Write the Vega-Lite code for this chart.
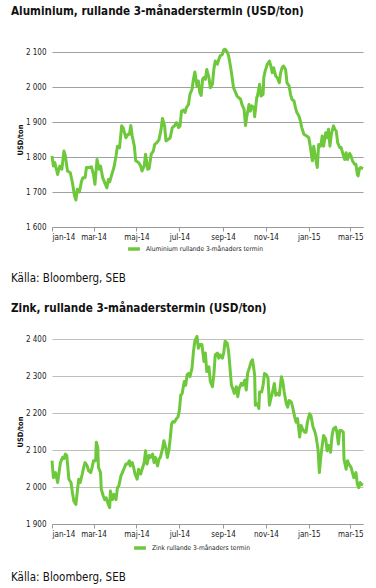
{
  "$schema": "https://vega.github.io/schema/vega-lite/v6.json",
  "padding": {"left": 11, "top": 6, "right": 4, "bottom": 2},
  "spacing": 18,
  "config": {
    "view": {"stroke": null},
    "font": "DejaVu Sans Condensed, sans-serif",
    "title": {"font": "DejaVu Sans Condensed, sans-serif", "fontSize": 11.6, "fontWeight": "bold", "color": "#111111"},
    "axis": {"labelFont": "DejaVu Sans Condensed, sans-serif", "labelFontSize": 8, "labelColor": "#222222", "titleFont": "DejaVu Sans Condensed, sans-serif", "titleFontSize": 7.5, "titleFontWeight": "bold", "titleColor": "#111111"},
    "legend": {"labelFont": "DejaVu Sans Condensed, sans-serif", "labelFontSize": 6.6, "labelColor": "#222222"}
  },
  "resolve": {"scale": {"color": "independent", "x": "independent", "y": "independent"}, "legend": {"color": "independent"}},
  "vconcat": [
    {
      "title": {"text": "Källa: Bloomberg, SEB", "orient": "bottom", "anchor": "start", "frame": "bounds", "fontSize": 11.5, "fontWeight": "normal", "offset": 17},
      "resolve": {"legend": {"color": "independent"}},
      "vconcat": [
        {
          "width": 311,
          "height": 175,
          "title": {"text": "Aluminium, rullande 3-månaderstermin (USD/ton)", "anchor": "start", "frame": "group", "dx": -41, "offset": 30},
          "data": {"values": [
            {"d":"2014-01-01","v":1803},{"d":"2014-01-03","v":1774},{"d":"2014-01-05","v":1784},{"d":"2014-01-09","v":1750},{"d":"2014-01-12","v":1774},{"d":"2014-01-15","v":1765},{"d":"2014-01-18","v":1817},{"d":"2014-01-20","v":1803},{"d":"2014-01-23","v":1760},{"d":"2014-01-27","v":1755},{"d":"2014-01-30","v":1727},
            {"d":"2014-02-02","v":1689},{"d":"2014-02-04","v":1677},{"d":"2014-02-06","v":1708},{"d":"2014-02-09","v":1700},{"d":"2014-02-12","v":1731},{"d":"2014-02-14","v":1741},{"d":"2014-02-17","v":1741},{"d":"2014-02-19","v":1770},{"d":"2014-02-23","v":1770},{"d":"2014-02-26","v":1772},
            {"d":"2014-03-01","v":1750},{"d":"2014-03-03","v":1722},{"d":"2014-03-06","v":1793},{"d":"2014-03-09","v":1765},{"d":"2014-03-11","v":1774},{"d":"2014-03-14","v":1741},{"d":"2014-03-16","v":1731},{"d":"2014-03-20","v":1712},{"d":"2014-03-22","v":1736},{"d":"2014-03-24","v":1729},{"d":"2014-03-27","v":1750},{"d":"2014-03-30","v":1770},
            {"d":"2014-04-02","v":1803},{"d":"2014-04-04","v":1831},{"d":"2014-04-07","v":1826},{"d":"2014-04-10","v":1889},{"d":"2014-04-12","v":1884},{"d":"2014-04-16","v":1855},{"d":"2014-04-19","v":1865},{"d":"2014-04-21","v":1865},{"d":"2014-04-23","v":1890},{"d":"2014-04-25","v":1860},{"d":"2014-04-28","v":1831},{"d":"2014-04-30","v":1789},
            {"d":"2014-05-04","v":1784},{"d":"2014-05-07","v":1774},{"d":"2014-05-09","v":1760},{"d":"2014-05-12","v":1774},{"d":"2014-05-14","v":1808},{"d":"2014-05-17","v":1765},{"d":"2014-05-19","v":1767},{"d":"2014-05-22","v":1808},{"d":"2014-05-25","v":1817},{"d":"2014-05-27","v":1836},{"d":"2014-05-30","v":1841},
            {"d":"2014-06-02","v":1849},{"d":"2014-06-05","v":1879},{"d":"2014-06-07","v":1910},{"d":"2014-06-10","v":1889},{"d":"2014-06-12","v":1846},{"d":"2014-06-15","v":1850},{"d":"2014-06-18","v":1855},{"d":"2014-06-21","v":1884},{"d":"2014-06-24","v":1889},{"d":"2014-06-27","v":1898},{"d":"2014-06-30","v":1884},
            {"d":"2014-07-02","v":1889},{"d":"2014-07-04","v":1931},{"d":"2014-07-07","v":1934},{"d":"2014-07-09","v":1927},{"d":"2014-07-11","v":1941},{"d":"2014-07-14","v":1950},{"d":"2014-07-16","v":1979},{"d":"2014-07-19","v":1993},{"d":"2014-07-21","v":2022},{"d":"2014-07-23","v":2043},{"d":"2014-07-26","v":2003},{"d":"2014-07-28","v":2017},{"d":"2014-07-30","v":1984},
            {"d":"2014-08-01","v":1976},{"d":"2014-08-03","v":2022},{"d":"2014-08-05","v":2027},{"d":"2014-08-07","v":2022},{"d":"2014-08-09","v":2050},{"d":"2014-08-12","v":2027},{"d":"2014-08-14","v":1998},{"d":"2014-08-17","v":2008},{"d":"2014-08-19","v":2050},{"d":"2014-08-21","v":2074},{"d":"2014-08-24","v":2065},{"d":"2014-08-26","v":2079},{"d":"2014-08-28","v":2089},{"d":"2014-08-31","v":2093},
            {"d":"2014-09-02","v":2106},{"d":"2014-09-04","v":2108},{"d":"2014-09-07","v":2100},{"d":"2014-09-09","v":2089},{"d":"2014-09-12","v":2055},{"d":"2014-09-14","v":2027},{"d":"2014-09-16","v":1998},{"d":"2014-09-19","v":1984},{"d":"2014-09-21","v":1974},{"d":"2014-09-23","v":1970},{"d":"2014-09-26","v":1965},{"d":"2014-09-28","v":1950},
            {"d":"2014-10-01","v":1936},{"d":"2014-10-03","v":1890},{"d":"2014-10-05","v":1917},{"d":"2014-10-08","v":1950},{"d":"2014-10-10","v":1931},{"d":"2014-10-12","v":1946},{"d":"2014-10-15","v":1941},{"d":"2014-10-16","v":1915},{"d":"2014-10-19","v":1970},{"d":"2014-10-20","v":1974},{"d":"2014-10-23","v":2008},{"d":"2014-10-25","v":1974},{"d":"2014-10-28","v":1979},{"d":"2014-10-29","v":2027},{"d":"2014-10-31","v":2046},
            {"d":"2014-11-03","v":2065},{"d":"2014-11-06","v":2074},{"d":"2014-11-08","v":2060},{"d":"2014-11-10","v":2041},{"d":"2014-11-12","v":2055},{"d":"2014-11-15","v":2031},{"d":"2014-11-17","v":2027},{"d":"2014-11-20","v":2012},{"d":"2014-11-22","v":2041},{"d":"2014-11-24","v":2055},{"d":"2014-11-26","v":2060},{"d":"2014-11-29","v":2050},
            {"d":"2014-12-01","v":2012},{"d":"2014-12-04","v":2003},{"d":"2014-12-06","v":1979},{"d":"2014-12-08","v":1965},{"d":"2014-12-11","v":1960},{"d":"2014-12-13","v":1941},{"d":"2014-12-15","v":1927},{"d":"2014-12-18","v":1917},{"d":"2014-12-20","v":1903},{"d":"2014-12-22","v":1884},{"d":"2014-12-25","v":1865},{"d":"2014-12-29","v":1860},
            {"d":"2015-01-01","v":1855},{"d":"2015-01-03","v":1831},{"d":"2015-01-06","v":1789},{"d":"2015-01-08","v":1831},{"d":"2015-01-10","v":1803},{"d":"2015-01-13","v":1770},{"d":"2015-01-15","v":1836},{"d":"2015-01-18","v":1831},{"d":"2015-01-20","v":1860},{"d":"2015-01-22","v":1831},{"d":"2015-01-25","v":1869},{"d":"2015-01-27","v":1855},{"d":"2015-01-29","v":1879},{"d":"2015-01-31","v":1831},
            {"d":"2015-02-02","v":1865},{"d":"2015-02-05","v":1889},{"d":"2015-02-07","v":1879},{"d":"2015-02-09","v":1874},{"d":"2015-02-11","v":1841},{"d":"2015-02-14","v":1827},{"d":"2015-02-16","v":1827},{"d":"2015-02-18","v":1812},{"d":"2015-02-21","v":1793},{"d":"2015-02-23","v":1812},{"d":"2015-02-25","v":1793},{"d":"2015-02-28","v":1810},
            {"d":"2015-03-02","v":1803},{"d":"2015-03-04","v":1789},{"d":"2015-03-07","v":1779},{"d":"2015-03-09","v":1779},{"d":"2015-03-11","v":1750},{"d":"2015-03-12","v":1746},{"d":"2015-03-14","v":1767},{"d":"2015-03-16","v":1770},{"d":"2015-03-19","v":1767}
          ]},
          "mark": {"type": "line", "strokeWidth": 3, "strokeJoin": "round"},
          "encoding": {
            "x": {"field": "d", "type": "temporal",
              "scale": {"domain": [{"year": 2014, "month": 1, "date": 1}, {"year": 2015, "month": 3, "date": 19}]},
              "axis": {"title": null, "grid": false, "domainColor": "#999999", "tickColor": "#999999", "tickSize": 4, "labelPadding": 2,
                "values": [{"year": 2014, "month": 1, "date": 1}, {"year": 2014, "month": 3, "date": 1}, {"year": 2014, "month": 5, "date": 1}, {"year": 2014, "month": 7, "date": 1}, {"year": 2014, "month": 9, "date": 1}, {"year": 2014, "month": 11, "date": 1}, {"year": 2015, "month": 1, "date": 1}, {"year": 2015, "month": 3, "date": 1}],
                "labelExpr": "['jan','feb','mar','apr','maj','jun','jul','aug','sep','okt','nov','dec'][month(datum.value)] + '-' + timeFormat(datum.value, '%y')"}},
            "y": {"field": "v", "type": "quantitative",
              "scale": {"domain": [1600, 2100], "zero": false},
              "axis": {"title": "USD/ton", "values": [1600, 1700, 1800, 1900, 2000, 2100], "domain": false, "ticks": false, "labelPadding": 6, "titlePadding": 1, "gridColor": "#a0a0a0", "gridWidth": 1.2,
                "labelExpr": "replace(format(datum.value, ','), ',', ' ')"}},
            "color": {"datum": "Aluminium rullande 3-månaders termin", "type": "nominal",
              "scale": {"range": ["#6ec83c"]},
              "legend": {"title": null, "orient": "none", "legendX": 74, "legendY": 189, "direction": "horizontal", "symbolType": "stroke", "symbolStrokeWidth": 3.5, "symbolSize": 140}}
          }
        }
      ]
    },
    {
      "title": {"text": "Källa: Bloomberg, SEB", "orient": "bottom", "anchor": "start", "frame": "bounds", "fontSize": 11.5, "fontWeight": "normal", "offset": 17},
      "resolve": {"legend": {"color": "independent"}},
      "vconcat": [
        {
          "width": 311,
          "height": 185,
          "title": {"text": "Zink, rullande 3-månaderstermin (USD/ton)", "anchor": "start", "frame": "group", "dx": -41, "offset": 20},
          "data": {"values": [
            {"d":"2014-01-01","v":2071},{"d":"2014-01-03","v":2025},{"d":"2014-01-06","v":2039},{"d":"2014-01-09","v":2012},{"d":"2014-01-11","v":2039},{"d":"2014-01-13","v":2066},{"d":"2014-01-16","v":2080},{"d":"2014-01-18","v":2077},{"d":"2014-01-20","v":2089},{"d":"2014-01-22","v":2085},{"d":"2014-01-25","v":2021},{"d":"2014-01-28","v":2012},{"d":"2014-01-30","v":1985},
            {"d":"2014-02-01","v":1962},{"d":"2014-02-04","v":1953},{"d":"2014-02-06","v":1989},{"d":"2014-02-08","v":2021},{"d":"2014-02-10","v":2012},{"d":"2014-02-13","v":2035},{"d":"2014-02-15","v":2053},{"d":"2014-02-17","v":2066},{"d":"2014-02-20","v":2057},{"d":"2014-02-22","v":2044},{"d":"2014-02-25","v":2039},{"d":"2014-02-27","v":2053},
            {"d":"2014-03-01","v":2071},{"d":"2014-03-04","v":2071},{"d":"2014-03-05","v":2121},{"d":"2014-03-07","v":2107},{"d":"2014-03-08","v":2053},{"d":"2014-03-11","v":2039},{"d":"2014-03-12","v":1994},{"d":"2014-03-15","v":1975},{"d":"2014-03-17","v":1966},{"d":"2014-03-19","v":1971},{"d":"2014-03-22","v":1953},{"d":"2014-03-24","v":1944},{"d":"2014-03-25","v":1989},{"d":"2014-03-28","v":1966},{"d":"2014-03-30","v":1980},
            {"d":"2014-04-02","v":1966},{"d":"2014-04-04","v":1998},{"d":"2014-04-06","v":2003},{"d":"2014-04-09","v":2030},{"d":"2014-04-11","v":2039},{"d":"2014-04-13","v":2048},{"d":"2014-04-16","v":2062},{"d":"2014-04-18","v":2062},{"d":"2014-04-21","v":2071},{"d":"2014-04-22","v":2057},{"d":"2014-04-25","v":2066},{"d":"2014-04-27","v":2053},{"d":"2014-04-29","v":2035},
            {"d":"2014-05-02","v":2021},{"d":"2014-05-04","v":2048},{"d":"2014-05-07","v":2035},{"d":"2014-05-09","v":2048},{"d":"2014-05-12","v":2066},{"d":"2014-05-14","v":2098},{"d":"2014-05-16","v":2062},{"d":"2014-05-19","v":2085},{"d":"2014-05-21","v":2080},{"d":"2014-05-24","v":2089},{"d":"2014-05-26","v":2066},{"d":"2014-05-28","v":2080},{"d":"2014-05-31","v":2057},
            {"d":"2014-06-02","v":2075},{"d":"2014-06-04","v":2080},{"d":"2014-06-07","v":2103},{"d":"2014-06-09","v":2125},{"d":"2014-06-12","v":2103},{"d":"2014-06-14","v":2080},{"d":"2014-06-16","v":2098},{"d":"2014-06-18","v":2130},{"d":"2014-06-20","v":2171},{"d":"2014-06-22","v":2177},{"d":"2014-06-24","v":2175},{"d":"2014-06-27","v":2185},{"d":"2014-06-29","v":2189},
            {"d":"2014-07-01","v":2207},{"d":"2014-07-03","v":2248},{"d":"2014-07-05","v":2253},{"d":"2014-07-08","v":2285},{"d":"2014-07-10","v":2275},{"d":"2014-07-12","v":2303},{"d":"2014-07-14","v":2307},{"d":"2014-07-16","v":2298},{"d":"2014-07-19","v":2321},{"d":"2014-07-21","v":2366},{"d":"2014-07-23","v":2394},{"d":"2014-07-26","v":2407},{"d":"2014-07-28","v":2375},{"d":"2014-07-30","v":2385},
            {"d":"2014-08-02","v":2385},{"d":"2014-08-05","v":2339},{"d":"2014-08-07","v":2362},{"d":"2014-08-09","v":2312},{"d":"2014-08-12","v":2325},{"d":"2014-08-14","v":2285},{"d":"2014-08-17","v":2271},{"d":"2014-08-19","v":2303},{"d":"2014-08-21","v":2357},{"d":"2014-08-24","v":2362},{"d":"2014-08-26","v":2348},{"d":"2014-08-28","v":2357},{"d":"2014-08-31","v":2348},
            {"d":"2014-09-02","v":2362},{"d":"2014-09-04","v":2394},{"d":"2014-09-07","v":2389},{"d":"2014-09-09","v":2366},{"d":"2014-09-11","v":2321},{"d":"2014-09-13","v":2275},{"d":"2014-09-15","v":2266},{"d":"2014-09-17","v":2253},{"d":"2014-09-20","v":2271},{"d":"2014-09-22","v":2244},{"d":"2014-09-24","v":2266},{"d":"2014-09-27","v":2280},{"d":"2014-09-29","v":2275},
            {"d":"2014-10-02","v":2289},{"d":"2014-10-04","v":2262},{"d":"2014-10-06","v":2307},{"d":"2014-10-09","v":2325},{"d":"2014-10-11","v":2339},{"d":"2014-10-13","v":2344},{"d":"2014-10-16","v":2303},{"d":"2014-10-17","v":2221},{"d":"2014-10-20","v":2225},{"d":"2014-10-22","v":2212},{"d":"2014-10-23","v":2257},{"d":"2014-10-26","v":2257},{"d":"2014-10-28","v":2275},{"d":"2014-10-30","v":2307},
            {"d":"2014-11-02","v":2303},{"d":"2014-11-04","v":2294},{"d":"2014-11-06","v":2221},{"d":"2014-11-08","v":2239},{"d":"2014-11-11","v":2262},{"d":"2014-11-13","v":2280},{"d":"2014-11-15","v":2248},{"d":"2014-11-18","v":2253},{"d":"2014-11-20","v":2248},{"d":"2014-11-23","v":2298},{"d":"2014-11-25","v":2285},{"d":"2014-11-27","v":2257},{"d":"2014-11-30","v":2225},
            {"d":"2014-12-02","v":2216},{"d":"2014-12-04","v":2234},{"d":"2014-12-07","v":2230},{"d":"2014-12-09","v":2216},{"d":"2014-12-12","v":2189},{"d":"2014-12-14","v":2175},{"d":"2014-12-16","v":2185},{"d":"2014-12-19","v":2135},{"d":"2014-12-21","v":2166},{"d":"2014-12-23","v":2157},{"d":"2014-12-26","v":2148},{"d":"2014-12-28","v":2148},{"d":"2014-12-30","v":2175},
            {"d":"2015-01-02","v":2198},{"d":"2015-01-04","v":2193},{"d":"2015-01-07","v":2162},{"d":"2015-01-09","v":2153},{"d":"2015-01-11","v":2139},{"d":"2015-01-14","v":2103},{"d":"2015-01-16","v":2039},{"d":"2015-01-18","v":2080},{"d":"2015-01-20","v":2112},{"d":"2015-01-22","v":2139},{"d":"2015-01-25","v":2130},{"d":"2015-01-27","v":2098},{"d":"2015-01-29","v":2112},
            {"d":"2015-02-01","v":2094},{"d":"2015-02-03","v":2139},{"d":"2015-02-05","v":2157},{"d":"2015-02-08","v":2162},{"d":"2015-02-10","v":2148},{"d":"2015-02-12","v":2116},{"d":"2015-02-14","v":2153},{"d":"2015-02-16","v":2153},{"d":"2015-02-19","v":2148},{"d":"2015-02-20","v":2075},{"d":"2015-02-23","v":2048},{"d":"2015-02-25","v":2071},{"d":"2015-02-27","v":2062},
            {"d":"2015-03-02","v":2053},{"d":"2015-03-04","v":2039},{"d":"2015-03-06","v":2025},{"d":"2015-03-09","v":2039},{"d":"2015-03-11","v":2007},{"d":"2015-03-13","v":1998},{"d":"2015-03-15","v":2012},{"d":"2015-03-17","v":2007},{"d":"2015-03-19","v":2005}
          ]},
          "mark": {"type": "line", "strokeWidth": 3, "strokeJoin": "round"},
          "encoding": {
            "x": {"field": "d", "type": "temporal",
              "scale": {"domain": [{"year": 2014, "month": 1, "date": 1}, {"year": 2015, "month": 3, "date": 19}]},
              "axis": {"title": null, "grid": false, "domainColor": "#999999", "tickColor": "#999999", "tickSize": 4, "labelPadding": 2,
                "values": [{"year": 2014, "month": 1, "date": 1}, {"year": 2014, "month": 3, "date": 1}, {"year": 2014, "month": 5, "date": 1}, {"year": 2014, "month": 7, "date": 1}, {"year": 2014, "month": 9, "date": 1}, {"year": 2014, "month": 11, "date": 1}, {"year": 2015, "month": 1, "date": 1}, {"year": 2015, "month": 3, "date": 1}],
                "labelExpr": "['jan','feb','mar','apr','maj','jun','jul','aug','sep','okt','nov','dec'][month(datum.value)] + '-' + timeFormat(datum.value, '%y')"}},
            "y": {"field": "v", "type": "quantitative",
              "scale": {"domain": [1900, 2400], "zero": false},
              "axis": {"title": "USD/ton", "values": [1900, 2000, 2100, 2200, 2300, 2400], "domain": false, "ticks": false, "labelPadding": 6, "titlePadding": 1, "gridColor": "#c0c0b8", "gridWidth": 1.2,
                "labelExpr": "replace(format(datum.value, ','), ',', ' ')"}},
            "color": {"datum": "Zink rullande 3-månaders termin", "type": "nominal",
              "scale": {"range": ["#6ec83c"]},
              "legend": {"title": null, "orient": "none", "legendX": 80, "legendY": 201, "direction": "horizontal", "symbolType": "stroke", "symbolStrokeWidth": 3.5, "symbolSize": 140}}
          }
        }
      ]
    }
  ]
}
